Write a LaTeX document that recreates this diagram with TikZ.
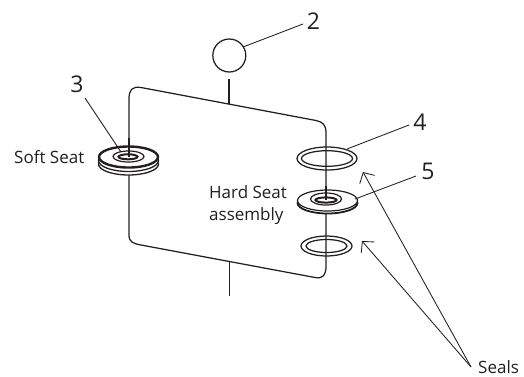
\documentclass[tikz,border=0pt]{standalone}
\usepackage{fontspec}
\setmainfont{Open Sans}
\usetikzlibrary{arrows.meta}
\definecolor{ink}{HTML}{231F20}
\tikzset{
  x=1pt,y=-1pt,
  wire/.style={draw=ink,line width=1.25pt},
  lead/.style={draw=ink,line width=0.85pt},
  callout/.style={font=\fontsize{23}{25}\selectfont,text=ink,inner sep=0pt},
  caption/.style={font=\fontsize{17}{22}\selectfont,text=ink,inner sep=0pt,align=left},
  pointer/.style={draw=ink,line width=0.85pt,-{Straight Barb[length=8pt,width=17pt,line width=0.85pt]}},
  ringpart/.style={draw=ink,line width=1.3pt,fill=white},
  ringline/.style={draw=ink,line width=1.25pt}
}
\begin{document}
\begin{tikzpicture}
\useasboundingbox (0,0) rectangle (524,376);
\coordinate (topstemA) at (229,79);
\coordinate (topstemB) at (229,104);
\coordinate (botstemA) at (229.5,262);
\coordinate (botstemB) at (229.5,296);
\coordinate (sealsTip) at (471,367);
\coordinate (softA) at (129,138);
\coordinate (softB) at (129,157);
\coordinate (hardA) at (326,186);
\coordinate (hardB) at (326,200);
% frame
\draw[wire] (129,235) -- (129,99) .. controls (129,90) and (132,86) .. (141,87.5)
  -- (316,120.5) .. controls (323,122) and (326,125) .. (326,133) -- (326,266)
  .. controls (326,275) and (323,279) .. (315,277.5) -- (141,245)
  .. controls (133,243.5) and (129,242) .. (129,235);
\draw[wire] (topstemA) -- (topstemB);
\draw[wire] (botstemA) -- (botstemB);
% valve ball
\node[circle,draw=ink,line width=1.25pt,minimum size=33pt,inner sep=0pt] (ball) at (229.3,55.5) {};
% soft seat
\draw[ringpart] (128.5,164) ellipse (30 and 11);
\draw[ringpart] (128.5,160.5) ellipse (30 and 11);
\draw[ringpart,line width=2.4pt] (128.5,157) ellipse (29.5 and 10.5);
\draw[ringpart,line width=1.2pt] (128.5,156.5) ellipse (15.5 and 5.5);
\draw[draw=ink,line width=2pt] (128,156.8) ellipse (9.5 and 2.5);
\draw[wire] (softA) -- (softB);
% seal 4
\draw[ringline] (327,158.5) ellipse (30 and 11.5);
\draw[ringline] (327,158.5) ellipse (25.5 and 7.8);
% hard seat
\draw[ringpart,line width=1.8pt] (327.5,203) ellipse (30 and 10.5);
\draw[ringpart,line width=1.2pt] (327.5,200.5) ellipse (30 and 10.5);
\draw[ringpart,line width=1.2pt] (326,199) ellipse (15.5 and 6);
\draw[draw=ink,line width=2pt] (326,200) ellipse (10.5 and 2.6);
\draw[wire] (hardA) -- (hardB);
% seal lower
\draw[ringline] (326.5,246) ellipse (25.5 and 10);
\draw[ringline] (326.5,246) ellipse (20.5 and 6.5);
% labels
\node[callout] (n2) at (313.5,21) {2};
\node[callout] (n3) at (77,84) {3};
\node[callout] (n4) at (420,122) {4};
\node[callout] (n5) at (428,171.5) {5};
\node[caption,anchor=west] (soft) at (14,157) {Soft Seat};
\node[caption,anchor=north west] (hard) at (209,185) {Hard Seat\\assembly};
\node[caption,anchor=west] (seals) at (478,367) {Seals};
% leaders
\draw[lead] (243,47) -- (303,24);
\draw[lead] (85,98) -- (121,152);
\draw[lead] (347,149) -- (409,125);
\draw[lead] (355,199) -- (416,176);
\draw[pointer] (sealsTip) -- (363,172);
\draw[pointer] (sealsTip) -- (362,241);
\end{tikzpicture}
\end{document}
